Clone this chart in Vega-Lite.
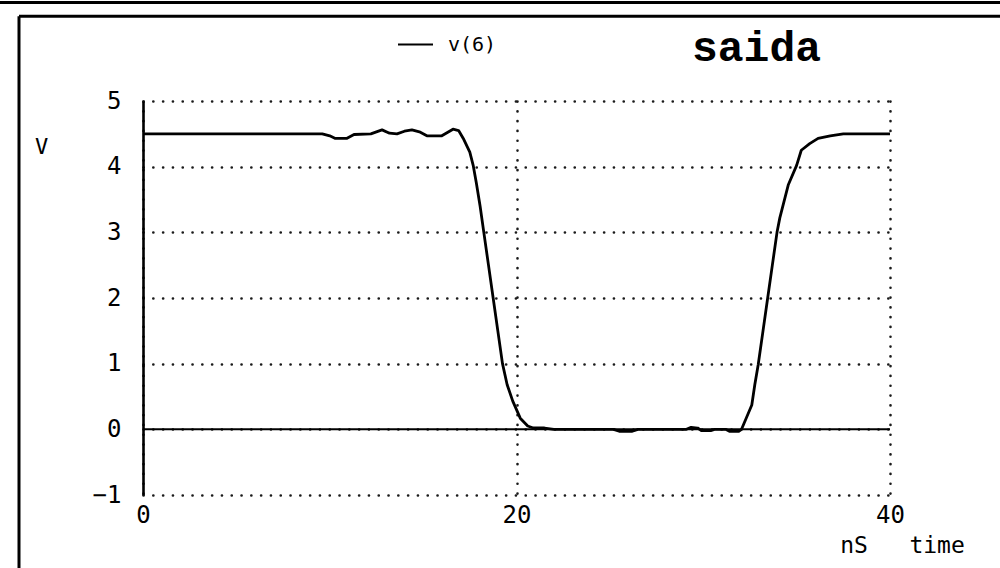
{
  "$schema": "https://vega.github.io/schema/vega-lite/v6.json",
  "width": 747,
  "height": 394,
  "autosize": {"type": "none"},
  "padding": {"left": 143, "top": 101, "right": 110, "bottom": 73},
  "background": "white",
  "config": {"view": {"stroke": null}, "font": "DejaVu Sans Mono"},
  "title": {
    "text": "saida",
    "font": "Liberation Mono",
    "fontSize": 43,
    "fontWeight": "bold",
    "color": "black",
    "anchor": "start",
    "frame": "group",
    "dx": 549,
    "offset": -69
  },
  "datasets": {
    "trace": [
      {"t": 0, "v": 4.5}, {"t": 9.6, "v": 4.5}, {"t": 10.0, "v": 4.47}, {"t": 10.3, "v": 4.43},
      {"t": 10.9, "v": 4.43}, {"t": 11.3, "v": 4.49}, {"t": 12.2, "v": 4.5}, {"t": 12.5, "v": 4.53},
      {"t": 12.8, "v": 4.56}, {"t": 13.2, "v": 4.51}, {"t": 13.6, "v": 4.5}, {"t": 14.0, "v": 4.54},
      {"t": 14.4, "v": 4.56}, {"t": 14.8, "v": 4.53}, {"t": 15.2, "v": 4.47}, {"t": 16.0, "v": 4.47},
      {"t": 16.3, "v": 4.52}, {"t": 16.6, "v": 4.57}, {"t": 16.9, "v": 4.55}, {"t": 17.15, "v": 4.43},
      {"t": 17.5, "v": 4.22}, {"t": 17.68, "v": 4.02}, {"t": 17.85, "v": 3.75}, {"t": 18.05, "v": 3.4},
      {"t": 18.25, "v": 3.0}, {"t": 18.5, "v": 2.5}, {"t": 18.75, "v": 2.0}, {"t": 19.0, "v": 1.5},
      {"t": 19.25, "v": 1.0}, {"t": 19.5, "v": 0.68}, {"t": 19.8, "v": 0.43}, {"t": 20.2, "v": 0.17},
      {"t": 20.6, "v": 0.05}, {"t": 20.9, "v": 0.02}, {"t": 21.5, "v": 0.02}, {"t": 22.0, "v": 0},
      {"t": 25.2, "v": 0}, {"t": 25.5, "v": -0.03}, {"t": 26.2, "v": -0.03}, {"t": 26.5, "v": 0},
      {"t": 29.1, "v": 0}, {"t": 29.35, "v": 0.03}, {"t": 29.7, "v": 0.02}, {"t": 29.9, "v": -0.02},
      {"t": 30.4, "v": -0.02}, {"t": 30.6, "v": 0}, {"t": 31.2, "v": 0}, {"t": 31.4, "v": -0.03},
      {"t": 31.9, "v": -0.03}, {"t": 32.05, "v": 0}, {"t": 32.3, "v": 0.17}, {"t": 32.6, "v": 0.37},
      {"t": 32.76, "v": 0.68}, {"t": 32.94, "v": 0.98}, {"t": 33.2, "v": 1.5}, {"t": 33.45, "v": 2.0},
      {"t": 33.7, "v": 2.5}, {"t": 33.95, "v": 3.0}, {"t": 34.1, "v": 3.22}, {"t": 34.55, "v": 3.72},
      {"t": 35.0, "v": 4.02}, {"t": 35.25, "v": 4.25}, {"t": 35.7, "v": 4.35}, {"t": 36.15, "v": 4.43},
      {"t": 36.8, "v": 4.47}, {"t": 37.5, "v": 4.5}, {"t": 40, "v": 4.5}
    ],
    "frame": [
      {"t": -6.64, "t2": -6.64, "v": -4, "v2": 6.29},
      {"t": -6.64, "t2": 50, "v": 6.29, "v2": 6.29},
      {"t": -10, "t2": 50, "v": 6.5, "v2": 6.5}
    ],
    "zero": [
      {"t": 0, "t2": 40, "v": 0}
    ]
  },
  "encoding": {
    "x": {
      "field": "t",
      "type": "quantitative",
      "scale": {"domain": [0, 40], "nice": false, "zero": false},
      "axis": {
        "values": [0, 20, 40],
        "title": "nS\u00a0\u00a0\u00a0time",
        "titleX": 759,
        "titleY": 50,
        "titleAlign": "center",
        "titleBaseline": "middle",
        "titleFont": "DejaVu Sans Mono",
        "titleFontSize": 23,
        "titleFontWeight": "normal",
        "titleColor": "black",
        "domain": false,
        "ticks": false,
        "labelPadding": 8,
        "labelFontSize": 24,
        "labelColor": "black",
        "labelFlush": false,
        "labelOverlap": false,
        "grid": true,
        "gridDash": [0.1, 9.7],
        "gridCap": "round",
        "gridWidth": 2.6,
        "gridColor": "#1a1a1a",
        "gridOpacity": 1
      }
    },
    "y": {
      "field": "v",
      "type": "quantitative",
      "scale": {"domain": [-1, 5], "nice": false, "zero": false},
      "axis": {
        "values": [-1, 0, 1, 2, 3, 4, 5],
        "title": "V",
        "titleAngle": 0,
        "titleX": -102,
        "titleY": 45,
        "titleAlign": "center",
        "titleBaseline": "middle",
        "titleFont": "DejaVu Sans Mono",
        "titleFontSize": 22,
        "titleFontWeight": "normal",
        "titleColor": "black",
        "ticks": false,
        "domainColor": "black",
        "domainWidth": 2.6,
        "labelPadding": 22,
        "labelFontSize": 24,
        "labelColor": "black",
        "labelFlush": false,
        "labelOverlap": false,
        "grid": true,
        "gridDash": [0.1, 9.7],
        "gridCap": "round",
        "gridWidth": 2.6,
        "gridColor": "#1a1a1a",
        "gridOpacity": 1
      }
    }
  },
  "layer": [
    {
      "data": {"name": "frame"},
      "mark": {"type": "rule", "stroke": "black", "strokeWidth": 3, "clip": false},
      "encoding": {"x2": {"field": "t2"}, "y2": {"field": "v2"}}
    },
    {
      "data": {"name": "zero"},
      "mark": {"type": "rule", "stroke": "black", "strokeWidth": 2, "clip": false},
      "encoding": {"x2": {"field": "t2"}}
    },
    {
      "data": {"name": "trace"},
      "mark": {"type": "line", "strokeWidth": 2.8, "strokeJoin": "round", "clip": false},
      "encoding": {
        "color": {
          "datum": "v(6)",
          "scale": {"range": ["black"]},
          "legend": {
            "orient": "none",
            "legendX": 254,
            "legendY": -75,
            "title": null,
            "symbolType": "stroke",
            "symbolSize": 1225,
            "symbolStrokeWidth": 2,
            "symbolStrokeColor": "black",
            "labelFont": "DejaVu Sans Mono",
            "labelFontSize": 20,
            "labelColor": "black",
            "labelOffset": 14,
            "padding": 0
          }
        }
      }
    }
  ]
}
